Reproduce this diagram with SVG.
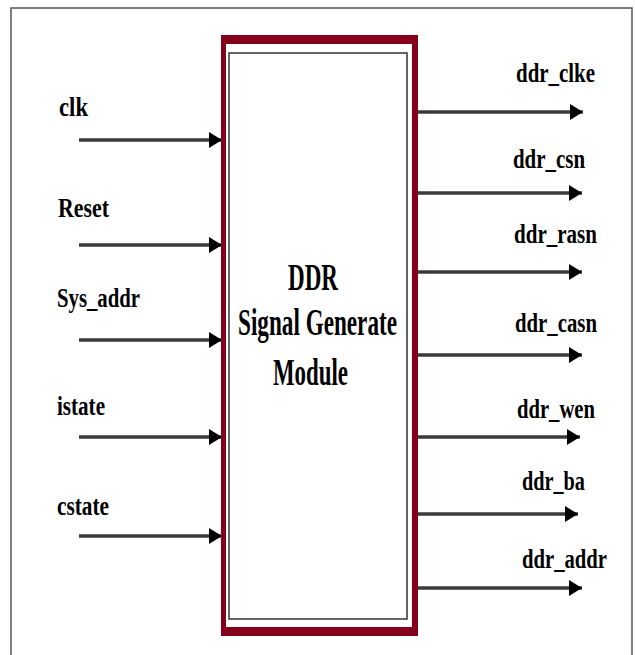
<svg xmlns="http://www.w3.org/2000/svg" width="635" height="655" viewBox="0 0 635 655">
<style>
.lbl{font-family:"Liberation Serif","Times New Roman",serif;font-weight:bold;font-size:28px;fill:#000}
.ttl{font-family:"Liberation Serif","Times New Roman",serif;font-weight:bold;font-size:37px;fill:#000}
.wire{stroke:#3a3a3a;stroke-width:3.5;fill:none}
</style>
<defs>
<marker id="ah" markerUnits="userSpaceOnUse" markerWidth="14" markerHeight="18" refX="13" refY="8" orient="auto">
<path d="M0,0 L13,8 L0,16 Z" fill="#000"/>
</marker>
</defs>
<rect width="635" height="655" fill="#fff"/>
<g id="frame">
<path d="M11,660 V8 H632 V660" fill="none" stroke="#555" stroke-width="1.5"/>
</g>
<g id="module">
<rect x="221" y="35" width="197" height="601" fill="#85001a"/>
<rect x="226" y="44" width="186" height="583" fill="#fff"/>
<rect x="229" y="53" width="178" height="566" fill="#fff" stroke="#333" stroke-width="1.5"/>
<text class="ttl" x="288" y="290" textLength="50" lengthAdjust="spacingAndGlyphs">DDR</text>
<text class="ttl" x="238" y="335" textLength="159" lengthAdjust="spacingAndGlyphs">Signal Generate</text>
<text class="ttl" x="273" y="385" textLength="75" lengthAdjust="spacingAndGlyphs">Module</text>
</g>
<g id="inputs">
<g id="in-clk"><text class="lbl" x="59" y="116" textLength="29" lengthAdjust="spacingAndGlyphs">clk</text></g>
<g id="in-reset"><text class="lbl" x="58" y="217" textLength="51" lengthAdjust="spacingAndGlyphs">Reset</text></g>
<g id="in-sysaddr"><text class="lbl" x="57" y="307" textLength="83" lengthAdjust="spacingAndGlyphs">Sys_addr</text></g>
<g id="in-istate"><text class="lbl" x="57" y="415" textLength="48" lengthAdjust="spacingAndGlyphs">istate</text></g>
<g id="in-cstate"><text class="lbl" x="57" y="515" textLength="52" lengthAdjust="spacingAndGlyphs">cstate</text></g>
</g>
<g id="outputs">
<g id="out-clke"><text class="lbl" x="516" y="82" textLength="79" lengthAdjust="spacingAndGlyphs">ddr_clke</text></g>
<g id="out-csn"><text class="lbl" x="513" y="168" textLength="72" lengthAdjust="spacingAndGlyphs">ddr_csn</text></g>
<g id="out-rasn"><text class="lbl" x="514" y="243" textLength="83" lengthAdjust="spacingAndGlyphs">ddr_rasn</text></g>
<g id="out-casn"><text class="lbl" x="515" y="332" textLength="82" lengthAdjust="spacingAndGlyphs">ddr_casn</text></g>
<g id="out-wen"><text class="lbl" x="517" y="418" textLength="78" lengthAdjust="spacingAndGlyphs">ddr_wen</text></g>
<g id="out-ba"><text class="lbl" x="522" y="490" textLength="63" lengthAdjust="spacingAndGlyphs">ddr_ba</text></g>
<g id="out-addr"><text class="lbl" x="522" y="568" textLength="85" lengthAdjust="spacingAndGlyphs" style="font-size:27px">ddr_addr</text></g>
</g>
<g id="connectors">
<line class="wire" x1="79" y1="140" x2="222" y2="140" marker-end="url(#ah)"/>
<line class="wire" x1="79" y1="245" x2="222" y2="245" marker-end="url(#ah)"/>
<line class="wire" x1="79" y1="340" x2="222" y2="340" marker-end="url(#ah)"/>
<line class="wire" x1="79" y1="437" x2="222" y2="437" marker-end="url(#ah)"/>
<line class="wire" x1="79" y1="536" x2="222" y2="536" marker-end="url(#ah)"/>
<line class="wire" x1="418" y1="112" x2="583" y2="112" marker-end="url(#ah)"/>
<line class="wire" x1="418" y1="193" x2="582" y2="193" marker-end="url(#ah)"/>
<line class="wire" x1="418" y1="272" x2="582" y2="272" marker-end="url(#ah)"/>
<line class="wire" x1="418" y1="355" x2="582" y2="355" marker-end="url(#ah)"/>
<line class="wire" x1="418" y1="437" x2="580" y2="437" marker-end="url(#ah)"/>
<line class="wire" x1="418" y1="514" x2="578" y2="514" marker-end="url(#ah)"/>
<line class="wire" x1="418" y1="588" x2="582" y2="588" marker-end="url(#ah)"/>
</g>
</svg>
